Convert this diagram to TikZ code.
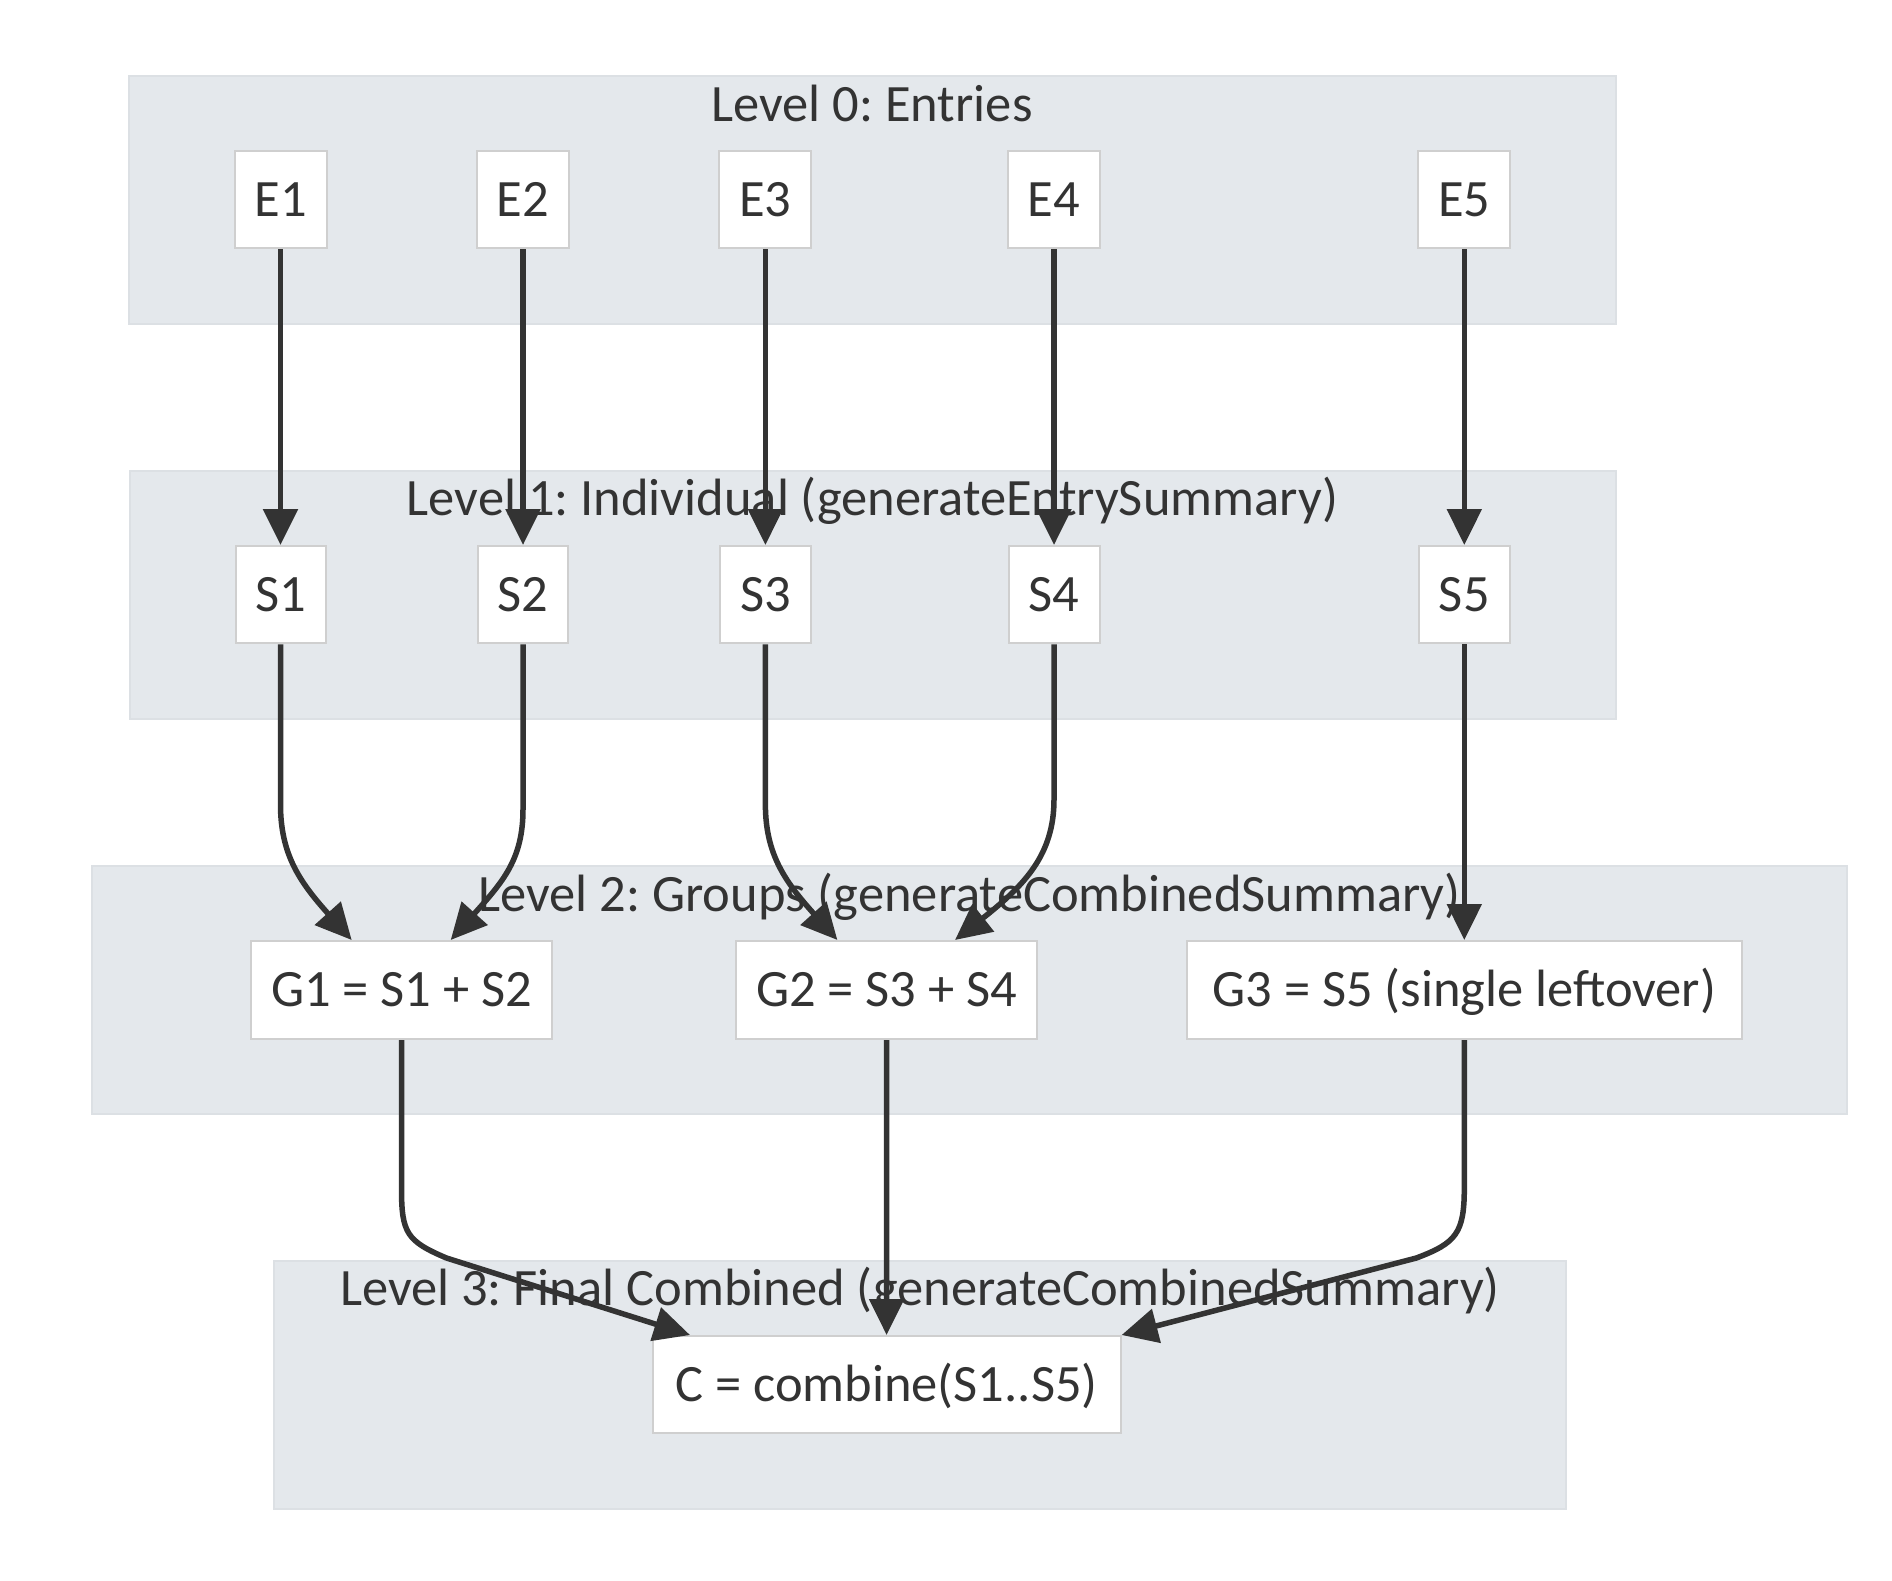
\documentclass[tikz,border=0pt]{standalone}
\usepackage{fontspec}
\setmainfont{Carlito}
\usetikzlibrary{arrows.meta}
\definecolor{ink}{HTML}{333333}
\definecolor{clfill}{HTML}{E4E8EC}
\definecolor{cldraw}{HTML}{DCE0E4}
\definecolor{nddraw}{HTML}{CFCFCF}
\frenchspacing
\begin{document}
\begin{tikzpicture}[x=1pt,y=-1pt,
  every node/.style={font=\fontsize{52.5}{60}\selectfont, text=ink},
  cluster/.style={fill=clfill, draw=cldraw, line width=2pt},
  ctitle/.style={anchor=base, inner sep=0pt},
  box/.style={draw=nddraw, fill=white, line width=2pt, inner sep=0pt, outer sep=1pt,
    text height=33pt, text depth=0pt, minimum height=97.4pt},
  edge/.style={draw=ink, line width=5.5pt, -{Triangle[length=36pt,width=34pt]}}]
\path[use as bounding box, fill=white] (0,0) rectangle (1892,1580);
% clusters
\draw[cluster] (128.5,75.6) rectangle (1615.7,324);
\draw[cluster] (129.7,471) rectangle (1615.7,719.4);
\draw[cluster] (91.7,865.6) rectangle (1847.4,1114);
\draw[cluster] (274,1261) rectangle (1566,1509.4);
% cluster titles
\node[ctitle] (T0) at (872,121) {Level 0: Entries};
\node[ctitle] (T1) at (872.4,515) {Level 1: Individual (generateEntrySummary)};
\node[ctitle] (T2) at (969.5,911) {Level 2: Groups (generateCombinedSummary)};
\node[ctitle] (T3) at (920,1305) {Level 3: Final Combined (generateCombinedSummary)};
% nodes
\node[box, minimum width=92pt] (E1) at (280.5,199.7) {E1};
\node[box, minimum width=92pt] (E2) at (523,199.7) {E2};
\node[box, minimum width=92pt] (E3) at (765.4,199.7) {E3};
\node[box, minimum width=92pt] (E4) at (1054,199.7) {E4};
\node[box, minimum width=92pt] (E5) at (1464.3,199.7) {E5};
\node[box, minimum width=90pt] (S1) at (280.5,594.7) {S1};
\node[box, minimum width=90pt] (S2) at (523,594.7) {S2};
\node[box, minimum width=91pt] (S3) at (765.4,594.7) {S3};
\node[box, minimum width=91pt] (S4) at (1054,594.7) {S4};
\node[box, minimum width=91pt] (S5) at (1464.3,594.7) {S5};
\node[box, minimum width=301pt, minimum height=98pt] (G1) at (401.5,990) {G1 = S1 + S2};
\node[box, minimum width=301.5pt, minimum height=98pt] (G2) at (886.5,990) {G2 = S3 + S4};
\node[box, minimum width=555pt, minimum height=98pt] (G3) at (1464.3,990) {G3 = S5 (single leftover)};
\node[box, minimum width=468pt] (C) at (886.6,1384.7) {C = combine(S1..S5)};
% edges
\draw[edge] (E1.south) -- (S1.north);
\draw[edge] (E2.south) -- (S2.north);
\draw[edge] (E3.south) -- (S3.north);
\draw[edge] (E4.south) -- (S4.north);
\draw[edge] (E5.south) -- (S5.north);
\draw[edge] (S1.south) -- ++(0,160) .. controls +(0,50) and +(-52,-58) .. ([xshift=-49.8pt]G1.north);
\draw[edge] (S2.south) -- ++(0,165) .. controls +(0,50) and +(52,-58) .. ([xshift=49.2pt]G1.north);
\draw[edge] (S3.south) -- ++(0,160) .. controls +(0,50) and +(-52,-58) .. ([xshift=-49.1pt]G2.north);
\draw[edge] (S4.south) -- ++(0,155) .. controls +(0,55) and +(70,-55) .. ([xshift=68.5pt]G2.north);
\draw[edge] (S5.south) -- (G3.north);
\draw[edge] (G1.south) -- ++(0,148) .. controls +(0,45) and +(-40,-17) .. ++(45,70) -- ([xshift=-196.6pt]C.north);
\draw[edge] (G2.south) -- (C.north);
\draw[edge] (G3.south) -- ++(0,148) .. controls +(0,45) and +(40,-15) .. ++(-48,70) -- (C.north east);
\end{tikzpicture}
\end{document}
